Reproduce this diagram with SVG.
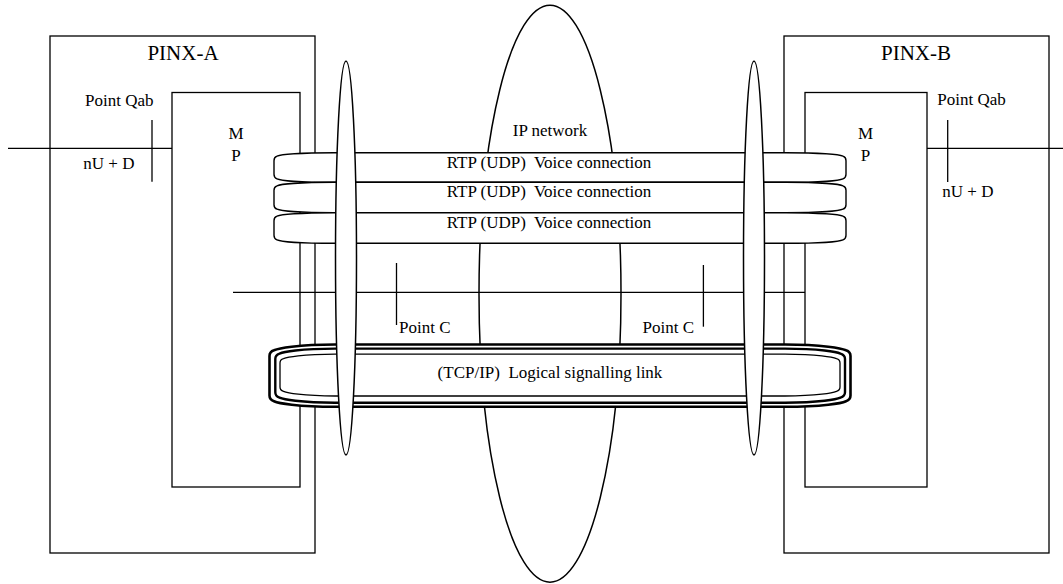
<svg xmlns="http://www.w3.org/2000/svg" width="1063" height="584" viewBox="0 0 1063 584">
<style>
.box{fill:#fff;stroke:#000;stroke-width:1.3}
.ln{fill:none;stroke:#000;stroke-width:1.3}
.tube{fill:#fff;stroke:#000;stroke-width:1.4}
.ell{fill:#fff;stroke:#000;stroke-width:1.5}
.t{font-family:"Liberation Serif","Times New Roman",serif;font-size:17px;fill:#000}
.ttl{font-size:21px}
.c{text-anchor:middle}
</style>
<rect width="1063" height="584" fill="#fff"/>
<g id="pinx-a"><rect class="box" x="50" y="36" width="265" height="517"/><text class="t ttl c" x="183" y="60">PINX-A</text></g>
<g id="pinx-b"><rect class="box" x="784" y="36" width="265" height="517"/><text class="t ttl c" x="916" y="60">PINX-B</text></g>
<g id="mp-a"><rect class="box" x="172" y="92.5" width="128" height="394.5"/><text class="t c" x="236" y="139">M</text><text class="t c" x="236" y="160.7">P</text></g>
<g id="mp-b"><rect class="box" x="805" y="92.5" width="122" height="394.5"/><text class="t c" x="865.5" y="139">M</text><text class="t c" x="865.5" y="160.7">P</text></g>
<g id="connectors">
<line class="ln" x1="8" y1="148.3" x2="172" y2="148.3"/>
<line class="ln" x1="152" y1="120" x2="152" y2="181.7"/>
<line class="ln" x1="927" y1="148.3" x2="1063" y2="148.3"/>
<line class="ln" x1="947.7" y1="120" x2="947.7" y2="182"/>
<line class="ln" x1="233" y1="292.3" x2="805" y2="292.3"/>
<line class="ln" x1="396.5" y1="263" x2="396.5" y2="325"/>
<line class="ln" x1="703.4" y1="265" x2="703.4" y2="326.7"/>
</g>
<g id="point-qab-a"><text class="t" x="85" y="105.7">Point Qab</text><text class="t" x="83.3" y="169">nU + D</text></g>
<g id="point-qab-b"><text class="t" x="937.3" y="105">Point Qab</text><text class="t" x="942.3" y="196.7">nU + D</text></g>
<g id="point-c"><text class="t" x="399" y="333">Point C</text><text class="t" x="642.5" y="333">Point C</text></g>
<g id="ip-network"><ellipse cx="550" cy="293.7" rx="71" ry="288.5" fill="none" stroke="#000" stroke-width="1.5"/><text class="t c" x="550" y="136">IP network</text></g>
<g id="voice-1"><path class="tube" d="M334,152.7 L786,152.7 C821,152.7 840,154.7 843,156.2 Q846,157.2 846,160.7 L846,174.3 Q846,177.8 843,178.8 C840,180.3 821,182.3 786,182.3 L334,182.3 C299,182.3 280,180.3 277,178.8 Q274,177.8 274,174.3 L274,160.7 Q274,157.2 277,156.2 C280,154.7 299,152.7 334,152.7 Z"/><text class="t c" x="549" y="167.7" xml:space="preserve">RTP (UDP)  Voice connection</text></g>
<g id="voice-2"><path class="tube" d="M334,182.3 L786,182.3 C821,182.3 840,184.3 843,185.8 Q846,186.8 846,190.3 L846,204.7 Q846,208.2 843,209.2 C840,210.7 821,212.7 786,212.7 L334,212.7 C299,212.7 280,210.7 277,209.2 Q274,208.2 274,204.7 L274,190.3 Q274,186.8 277,185.8 C280,184.3 299,182.3 334,182.3 Z"/><text class="t c" x="549" y="197.3" xml:space="preserve">RTP (UDP)  Voice connection</text></g>
<g id="voice-3"><path class="tube" d="M334,212.7 L786,212.7 C821,212.7 840,214.7 843,216.2 Q846,217.2 846,220.7 L846,235.3 Q846,238.8 843,239.8 C840,241.3 821,243.3 786,243.3 L334,243.3 C299,243.3 280,241.3 277,239.8 Q274,238.8 274,235.3 L274,220.7 Q274,217.2 277,216.2 C280,214.7 299,212.7 334,212.7 Z"/><text class="t c" x="549" y="228.3" xml:space="preserve">RTP (UDP)  Voice connection</text></g>
<g id="tcp-link">
<path fill="#fff" stroke="#000" stroke-width="2.6" d="M335,344.5 L785,344.5 C823,344.5 842,348.5 846,350.3 Q850.5,351.8 850.5,356 L850.5,395.5 Q850.5,399.7 846,401.2 C842,403 823,406.8 785,406.8 L335,406.8 C297,406.8 278,403 274,401.2 Q269.5,399.7 269.5,395.5 L269.5,356 Q269.5,351.8 274,350.3 C278,348.5 297,344.5 335,344.5 Z"/>
<path fill="none" stroke="#000" stroke-width="2.4" d="M335,348.6 L785,348.6 C820,348.6 837,352 840.5,353.6 Q845,355 845,359 L845,392.3 Q845,396.3 840.5,397.7 C837,399.3 820,402.7 785,402.7 L335,402.7 C300,402.7 283,399.3 279.5,397.7 Q275.3,396.3 275.3,392.3 L275.3,359 Q275.3,355 279.5,353.6 C283,352 300,348.6 335,348.6 Z"/>
<path fill="none" stroke="#000" stroke-width="1.3" d="M335,354.2 L785,354.2 C818,354.2 833,357.2 836.5,358.7 Q840,359.7 840,363 L840,387 Q840,390.3 836.5,391.3 C833,392.8 818,396 785,396 L335,396 C302,396 287,392.8 283.5,391.3 Q280,390.3 280,387 L280,363 Q280,359.7 283.5,358.7 C287,357.2 302,354.2 335,354.2 Z"/>
<text class="t c" x="550" y="378.3" xml:space="preserve">(TCP/IP)  Logical signalling link</text>
</g>
<g id="ellipse-left"><ellipse class="ell" cx="346" cy="258" rx="10.5" ry="197"/></g>
<g id="ellipse-right"><ellipse class="ell" cx="754" cy="258" rx="10.5" ry="197"/></g>
</svg>
